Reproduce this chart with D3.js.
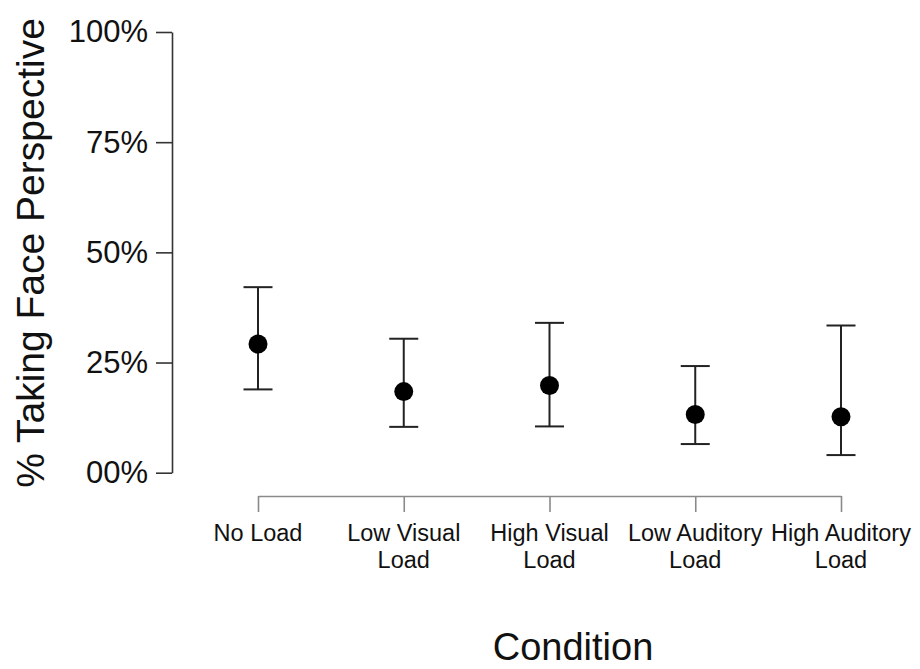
<!DOCTYPE html>
<html>
<head>
<meta charset="utf-8">
<script src="https://cdn.jsdelivr.net/npm/d3@7"></script>
<style>
  html, body { margin: 0; padding: 0; background: #fff; }
  svg { display: block; font-family: "Liberation Sans", Arial, sans-serif; }
</style>
</head>
<body>
<svg id="chart" width="920" height="669"></svg>
<script>
// ---- data ----
const categories = ["No Load", "Low Visual Load", "High Visual Load", "Low Auditory Load", "High Auditory Load"];
const categoryLabelLines = [["No Load"], ["Low Visual", "Load"], ["High Visual", "Load"], ["Low Auditory", "Load"], ["High Auditory", "Load"]];
const meanValues = [0.292, 0.184, 0.198, 0.132, 0.127];
const lowerValues = [0.189, 0.104, 0.105, 0.065, 0.040];
const upperValues = [0.421, 0.304, 0.340, 0.242, 0.334];
const yTickValues = [0, 0.25, 0.5, 0.75, 1];
const yTickLabels = ["00%", "25%", "50%", "75%", "100%"];

const svg = d3.select("#chart");

const y = d3.scaleLinear().domain([0, 1]).range([472.7, 32]);
const x = d3.scalePoint().domain(categories).range([258, 841]);

// Y axis
const yAxis = d3.axisLeft(y)
  .tickValues(yTickValues)
  .tickFormat((d, i) => yTickLabels[i])
  .tickSizeInner(16)
  .tickSizeOuter(0)
  .tickPadding(8);
const gy = svg.append("g").attr("transform", "translate(172,0)").call(yAxis);
gy.select(".domain").attr("stroke", "#333").attr("stroke-width", 1.6);
gy.selectAll(".tick line").attr("stroke", "#333").attr("stroke-width", 1.6);
gy.selectAll(".tick text").attr("font-size", 31).attr("fill", "#111")
  .attr("font-family", "'Liberation Sans', Arial, sans-serif");

// X axis
const xAxis = d3.axisBottom(x)
  .tickSizeInner(16)
  .tickSizeOuter(0)
  .tickFormat("");
const gx = svg.append("g").attr("transform", "translate(0,496)").call(xAxis);
gx.select(".domain").attr("stroke", "#8a8a8a").attr("stroke-width", 1.6);
gx.selectAll(".tick line").attr("stroke", "#8a8a8a").attr("stroke-width", 1.6);

// X labels (multi-line)
const xl = svg.append("g");
categories.forEach((c, i) => {
  const t = xl.append("text")
    .attr("text-anchor", "middle")
    .attr("font-size", 23.5)
    .attr("fill", "#111")
    .attr("transform", "translate(" + x(c) + ",541)");
  categoryLabelLines[i].forEach((line, j) => {
    t.append("tspan").attr("x", 0).attr("dy", j === 0 ? 0 : 27).text(line);
  });
});

// Error bars
const capHalf = 14.5;
const bars = svg.append("g").attr("stroke", "#222").attr("stroke-width", 2);
categories.forEach((c, i) => {
  const cx = x(c);
  bars.append("line").attr("x1", cx).attr("x2", cx).attr("y1", y(upperValues[i])).attr("y2", y(lowerValues[i]));
  bars.append("line").attr("x1", cx - capHalf).attr("x2", cx + capHalf).attr("y1", y(upperValues[i])).attr("y2", y(upperValues[i]));
  bars.append("line").attr("x1", cx - capHalf).attr("x2", cx + capHalf).attr("y1", y(lowerValues[i])).attr("y2", y(lowerValues[i]));
});

// Points
svg.append("g").selectAll("circle")
  .data(categories)
  .join("circle")
  .attr("cx", d => x(d))
  .attr("cy", (d, i) => y(meanValues[i]))
  .attr("r", 9.5)
  .attr("fill", "#000");

// Axis titles
svg.append("text")
  .attr("transform", "translate(44,253) rotate(-90)")
  .attr("text-anchor", "middle")
  .attr("font-size", 39)
  .attr("fill", "#111")
  .text("% Taking Face Perspective");

svg.append("text")
  .attr("x", 573)
  .attr("y", 660)
  .attr("text-anchor", "middle")
  .attr("font-size", 38)
  .attr("fill", "#111")
  .text("Condition");
</script>
</body>
</html>
